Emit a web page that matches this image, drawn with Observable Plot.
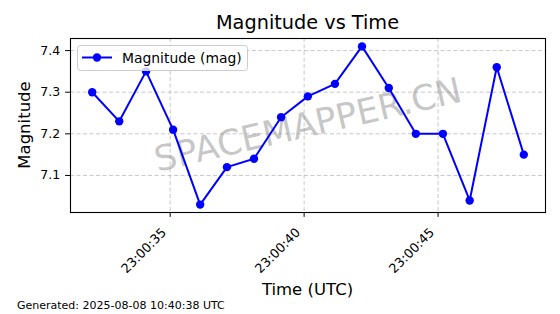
<!DOCTYPE html>
<html><head><meta charset="utf-8">
<script src="https://cdn.jsdelivr.net/npm/d3@7"></script>
<script src="https://cdn.jsdelivr.net/npm/@observablehq/plot@0.6"></script>
<style>
body{margin:0;background:#fff;}
#chart svg{display:block;}
</style>
</head><body><div id="chart"></div>
<script>
// ---- data ----
const times = [
  "2025-08-07T23:00:32.09Z","2025-08-07T23:00:33.10Z","2025-08-07T23:00:34.10Z",
  "2025-08-07T23:00:35.11Z","2025-08-07T23:00:36.12Z","2025-08-07T23:00:37.12Z",
  "2025-08-07T23:00:38.13Z","2025-08-07T23:00:39.14Z","2025-08-07T23:00:40.14Z",
  "2025-08-07T23:00:41.15Z","2025-08-07T23:00:42.16Z","2025-08-07T23:00:43.16Z",
  "2025-08-07T23:00:44.17Z","2025-08-07T23:00:45.18Z","2025-08-07T23:00:46.18Z",
  "2025-08-07T23:00:47.19Z","2025-08-07T23:00:48.20Z"
];
const magnitudes = [7.30, 7.23, 7.35, 7.21, 7.03, 7.12, 7.14, 7.24, 7.29, 7.32, 7.41, 7.31, 7.20, 7.20, 7.04, 7.36, 7.15];
const xTicks = ["2025-08-07T23:00:35Z","2025-08-07T23:00:40Z","2025-08-07T23:00:45Z"];
const yTicks = [7.1, 7.2, 7.3, 7.4];
const xDomain = ["2025-08-07T23:00:31.28Z","2025-08-07T23:00:49.01Z"];
const yDomain = [7.011, 7.429];
const titleText = "Magnitude vs Time";
const xLabel = "Time (UTC)";
const yLabel = "Magnitude";
const seriesName = "Magnitude (mag)";
const watermark = "SPACEMAPPER.CN";
const footer = "Generated: 2025-08-08 10:40:38 UTC";

// ---- build ----
const data = times.map((t, i) => ({time: new Date(t), mag: magnitudes[i]}));
const xt = xTicks.map(d => new Date(d));
const font = "DejaVu Sans, Liberation Sans, sans-serif";
const BLUE = "#0000ff";

const W = 560, H = 314;
const mL = 70, mR = 15, mT = 38, mB = 102;

const svgEl = Plot.plot({
  width: W, height: H,
  marginLeft: mL, marginRight: mR, marginTop: mT, marginBottom: mB,
  style: {fontFamily: font, fontSize: "12.5px", background: "#fff", color: "#000"},
  x: {type: "utc", domain: xDomain.map(d => new Date(d))},
  y: {domain: yDomain},
  marks: [
    Plot.gridX(xt, {stroke: "#b0b0b0", strokeOpacity: 0.7, strokeWidth: 1, strokeDasharray: "4,2.5"}),
    Plot.gridY(yTicks, {stroke: "#b0b0b0", strokeOpacity: 0.7, strokeWidth: 1, strokeDasharray: "4,2.5"}),
    Plot.text([watermark], {frameAnchor: "middle", text: d => d, rotate: -13, fontSize: 35,
      fill: "#808080", fillOpacity: 0.45, fontFamily: font}),
    Plot.line(data, {x: "time", y: "mag", stroke: BLUE, strokeWidth: 2}),
    Plot.dot(data, {x: "time", y: "mag", r: 4.2, fill: BLUE, stroke: "none"}),
    Plot.frame({stroke: "#000", strokeWidth: 1.1}),
    // tick marks only
    Plot.axisX(xt, {tickFormat: () => "", tickSize: 4.9, label: null}),
    // rotated tick labels
    Plot.axisX(xt, {tickFormat: d3.utcFormat("%H:%M:%S"), tickRotate: -45, tickSize: 0,
      tickPadding: 7.9, dx: -6, dy: 10, fontSize: 12.8, label: null}),
    Plot.axisY(yTicks, {tickFormat: d3.format(".1f"), tickSize: 4.9, tickPadding: 5.5,
      fontSize: 12.5, label: null})
  ]
});
document.getElementById("chart").appendChild(svgEl);

const svg = d3.select(svgEl);
const cx = (mL + (W - mR)) / 2;
const cy = (mT + (H - mB)) / 2;

svg.append("text").attr("x", cx).attr("y", 28.5).attr("text-anchor", "middle")
  .style("font-family", font).style("font-size", "19.3px").attr("fill", "#000").text(titleText);

svg.append("text").attr("x", cx).attr("y", 295).attr("text-anchor", "middle")
  .style("font-family", font).style("font-size", "16.5px").attr("fill", "#000").text(xLabel);

svg.append("text").attr("transform", `translate(30,${cy}) rotate(-90)`).attr("text-anchor", "middle")
  .style("font-family", font).style("font-size", "16.5px").attr("fill", "#000").text(yLabel);

svg.append("text").attr("x", 17).attr("y", 309).attr("text-anchor", "start")
  .style("font-family", font).style("font-size", "11px").attr("fill", "#000").text(footer);

// legend
const lg = svg.append("g");
lg.append("rect").attr("x", 77.5).attr("y", 45.5).attr("width", 170).attr("height", 25).attr("rx", 3)
  .attr("fill", "#fff").attr("fill-opacity", 0.8).attr("stroke", "#cccccc").attr("stroke-width", 1);
lg.append("line").attr("x1", 82).attr("x2", 112).attr("y1", 57.5).attr("y2", 57.5)
  .attr("stroke", BLUE).attr("stroke-width", 2);
lg.append("circle").attr("cx", 97).attr("cy", 57.5).attr("r", 4.2).attr("fill", BLUE);
lg.append("text").attr("x", 122).attr("y", 62.5).attr("text-anchor", "start")
  .style("font-family", font).style("font-size", "13.9px").attr("fill", "#000").text(seriesName);
</script>
</body></html>
